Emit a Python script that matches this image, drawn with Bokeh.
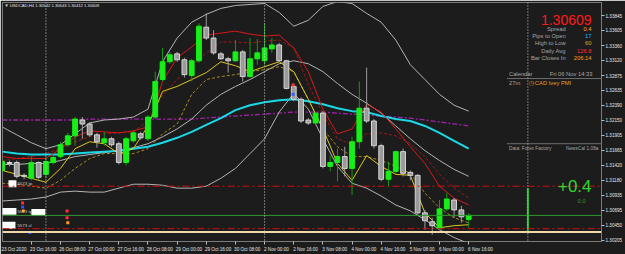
from bokeh.plotting import figure
from bokeh.models import (Range1d, LinearAxis, FixedTicker, PrintfTickFormatter,
                          ColumnDataSource, Label, Span)
from bokeh.embed import file_html
from bokeh.resources import INLINE

# ---------------- data (USDCAD H4, 23 Oct 2020 00:00 .. 6 Nov 2020 16:00) ----------------
IDX = list(range(65))
OPEN = [1.31338,1.31466,1.31466,1.31258,1.31210,1.31466,1.31274,1.31466,1.31562,1.31754,
        1.31898,1.32154,1.32090,1.31914,1.31786,1.31850,1.31770,1.31466,1.31818,1.31930,
        1.31850,1.32202,1.32810,1.33098,1.33226,1.33130,1.32874,1.33114,1.33658,1.33482,
        1.33226,1.33146,1.33114,1.33258,1.32858,1.33146,1.33114,1.33306,1.33370,1.33114,
        1.32698,1.32490,1.32154,1.32106,1.32266,1.31402,1.31466,1.31562,1.31370,1.31802,
        1.32346,1.32138,1.31738,1.31194,1.31322,1.31642,1.31306,1.31258,1.30650,1.30506,
        1.30394,1.30714,1.30858,1.30698,1.30542]
HIGH = [1.31530,1.31498,1.31498,1.31290,1.31578,1.31482,1.31562,1.31594,1.31802,1.31946,
        1.32202,1.32202,1.32122,1.31946,1.31962,1.31882,1.31802,1.31882,1.31978,1.31962,
        1.32234,1.32938,1.33322,1.33258,1.33258,1.33162,1.33146,1.33722,1.33882,1.33610,
        1.33258,1.33178,1.33450,1.33290,1.33482,1.33466,1.33722,1.33482,1.33402,1.33130,
        1.32746,1.32522,1.32186,1.32282,1.32298,1.31578,1.31690,1.31722,1.31882,1.32778,
        1.33002,1.32170,1.31770,1.31482,1.31658,1.31690,1.31338,1.31274,1.30698,1.30570,
        1.30858,1.30970,1.30890,1.30762,1.30643]
LOW = [1.31290,1.31402,1.31210,1.31194,1.31178,1.31194,1.31210,1.31434,1.31530,1.31722,
       1.31738,1.31850,1.31882,1.31706,1.31738,1.31722,1.31434,1.31418,1.31786,1.31834,
       1.31818,1.32170,1.32778,1.33066,1.33098,1.32842,1.32778,1.33082,1.33450,1.33210,
       1.33130,1.32922,1.33098,1.32778,1.32842,1.33050,1.33050,1.33242,1.33098,1.32650,
       1.32458,1.32106,1.32074,1.32074,1.31370,1.31322,1.31162,1.31242,1.30938,1.31690,
       1.32106,1.31690,1.31162,1.31082,1.31290,1.31242,1.31178,1.30618,1.30378,1.30298,
       1.30362,1.30682,1.30570,1.30490,1.30412]
CLOSE = [1.31482,1.31450,1.31242,1.31242,1.31466,1.31226,1.31482,1.31546,1.31754,1.31898,
         1.32170,1.32090,1.31914,1.31802,1.31850,1.31754,1.31466,1.31850,1.31946,1.31866,
         1.32202,1.32778,1.33098,1.33210,1.33130,1.32890,1.33114,1.33674,1.33482,1.33242,
         1.33146,1.33114,1.33258,1.32858,1.33146,1.33242,1.33322,1.33370,1.33114,1.32666,
         1.32490,1.32138,1.32106,1.32266,1.31402,1.31466,1.31562,1.31370,1.31802,1.32346,
         1.32138,1.31738,1.31194,1.31322,1.31642,1.31290,1.31258,1.30650,1.30522,1.30442,
         1.30714,1.30874,1.30698,1.30586,1.30609]

# indicator lines, sampled every second bar
LINE_IDX = list(range(0, 65, 2))
MA_CYAN = [1.31642,1.31610,1.31594,1.31594,1.31594,1.31610,1.31626,1.31642,1.31658,1.31690,
           1.31722,1.31786,1.31866,1.31962,1.32074,1.32186,1.32314,1.32394,1.32442,1.32474,
           1.32490,1.32458,1.32410,1.32346,1.32298,1.32282,1.32218,1.32170,1.32138,1.32058,
           1.31946,1.31818,1.31690]
MA_MAGENTA = [1.32154,1.32154,1.32154,1.32154,1.32154,1.32154,1.32170,1.32170,1.32170,1.32170,
              1.32170,1.32170,1.32170,1.32170,1.32186,1.32202,1.32218,1.32234,1.32250,1.32266,
              1.32282,1.32282,1.32282,1.32266,1.32250,1.32234,1.32218,1.32202,1.32186,1.32154,
              1.32122,1.32090,1.32058]
BB_UPPER = [1.32042,1.31914,1.31786,1.31690,1.31754,1.31930,1.32106,1.32154,1.32170,1.32202,
            1.32330,1.33098,1.33482,1.33738,1.33866,1.33962,1.34010,1.34026,1.34042,1.33898,
            1.33674,1.33770,1.33994,1.34074,1.34042,1.33882,1.33738,1.33450,1.33050,1.32810,
            1.32570,1.32394,1.32298]
BB_MID = [1.31434,1.31434,1.31450,1.31450,1.31498,1.31562,1.31594,1.31626,1.31658,1.31706,
          1.31770,1.31882,1.32010,1.32170,1.32394,1.32570,1.32698,1.32810,1.32938,1.33066,
          1.33114,1.33066,1.32938,1.32746,1.32570,1.32426,1.32266,1.32058,1.31850,1.31658,
          1.31498,1.31354,1.31242]
BB_LOWER = [1.30842,1.30858,1.30874,1.30906,1.30986,1.31002,1.30986,1.30986,1.31050,1.31114,
            1.31114,1.31098,1.31050,1.31050,1.31082,1.31210,1.31370,1.31610,1.31850,1.32282,
            1.32586,1.32330,1.31850,1.31402,1.31130,1.31050,1.30922,1.30778,1.30682,1.30538,
            1.30378,1.30250,1.30154]
MA_RED = [1.31562,1.31530,1.31530,1.31530,1.31690,1.31882,1.31978,1.31962,1.31946,1.31978,
          1.32042,1.32778,1.33162,1.33338,1.33530,1.33562,1.33594,1.33546,1.33514,1.33530,
          1.33322,1.32938,1.32330,1.31930,1.32010,1.32410,1.32282,1.32010,1.31722,1.31450,
          1.31082,1.30890,1.30778]
MA_RED_DASH = [1.31498,1.31530,1.31562,1.31610,1.31690,1.31802,1.31882,1.31930,1.31946,1.31962,
               1.32138,1.32554,1.32810,1.33018,1.33242,1.33418,1.33418,1.33402,1.33434,1.33450,
               1.33322,1.32730,1.32250,1.31850,1.31754,1.31930,1.31946,1.31898,1.31770,1.31562,
               1.31274,1.31050,1.30890]
MA_YELLOW = [1.31338,1.31274,1.31210,1.31146,1.31370,1.31690,1.31802,1.31770,1.31610,1.31690,
             1.32058,1.32618,1.32698,1.32810,1.32922,1.33098,1.33034,1.32938,1.33018,1.33098,
             1.32938,1.32490,1.32010,1.31450,1.31178,1.31578,1.31402,1.31274,1.31258,1.30650,
             1.30410,1.30442,1.30458]
MA_YELLOW_DASH = [1.31130,1.31114,1.31082,1.31050,1.31178,1.31370,1.31530,1.31610,1.31610,1.31610,
                  1.31690,1.31930,1.32090,1.32570,1.32810,1.32858,1.32890,1.32938,1.32970,1.33018,
                  1.32938,1.32490,1.32010,1.31722,1.31562,1.31562,1.31498,1.31402,1.31290,1.30970,
                  1.30730,1.30570,1.30490]

# horizontal levels
BID = 1.30609
LEVEL_RED_UP = 1.31082
LEVEL_RED_DN = 1.30394
LEVEL_WHEAT = 1.30340
SEPARATORS = [6, 36]

PRICE_TICKS = [1.33845, 1.33605, 1.33360, 1.33120, 1.32875, 1.32635, 1.32390, 1.32150,
               1.31905, 1.31665, 1.31420, 1.31180, 1.30935, 1.30695, 1.30450, 1.30205]
TIME_IDX = list(range(0, 65, 4))
TIME_LABELS = ["23 Oct 2020", "23 Oct 16:00", "26 Oct 08:00", "27 Oct 00:00", "27 Oct 16:00",
               "28 Oct 08:00", "29 Oct 00:00", "29 Oct 16:00", "30 Oct 08:00", "2 Nov 00:00",
               "2 Nov 16:00", "3 Nov 08:00", "4 Nov 00:00", "4 Nov 16:00", "5 Nov 08:00",
               "6 Nov 00:00", "6 Nov 16:00"]

TRADE_X = [2.8, 2.8, 2.9, 8.9, 8.9, 9.0, 3.8, 39.9, 39.9]
TRADE_P = [1.30810, 1.30746, 1.30680, 1.30682, 1.30570, 1.30490, 1.30330, 1.32720, 1.32570]
TRADE_C = ["#ff3030", "#3050ff", "#ffa020", "#ff3030", "#ff3030", "#ffa020", "#3050ff",
           "#ff3030", "#3060ff"]

# ---------------- geometry of the terminal window (pixels -> data) ----------------
BAR_PX, BAR0_PX = 7.325, 1.7
P0, P_PER_PX = 1.34090, 0.00016


def xi(px):
    return (px - BAR0_PX) / BAR_PX


def yp(py):
    return P0 - P_PER_PX * py


BG = "#1c1c1c"
FONT = "Liberation Sans"

p = figure(width=625, height=254, output_backend="svg", toolbar_location=None,
           x_range=Range1d(xi(2), xi(604)), y_range=Range1d(yp(244), yp(2)),
           x_axis_type=None, y_axis_type=None,
           min_border_left=2, min_border_top=2, min_border_right=21, min_border_bottom=10,
           background_fill_color=BG, border_fill_color=BG, outline_line_color="#7a7a7a")

yax = LinearAxis(ticker=FixedTicker(ticks=PRICE_TICKS), formatter=PrintfTickFormatter(format="%.5f"),
                 axis_line_color=None, major_tick_line_color="#bdbdbd", major_tick_out=3,
                 major_tick_in=0, minor_tick_line_color=None, major_label_text_color="#e6e6e6",
                 major_label_text_font_size="4.6px", major_label_standoff=1,
                 major_label_text_font=FONT)
p.add_layout(yax, "right")

SHIFT = 1.62
xax = LinearAxis(ticker=FixedTicker(ticks=[i + SHIFT for i in TIME_IDX], minor_ticks=TIME_IDX),
                 major_label_overrides={i + SHIFT: t for i, t in zip(TIME_IDX, TIME_LABELS)},
                 axis_line_color=None, major_tick_line_color=None, major_tick_out=0, major_tick_in=0,
                 minor_tick_line_color="#bdbdbd", minor_tick_out=3, minor_tick_in=0,
                 major_label_text_color="#e6e6e6", major_label_text_font_size="4.6px",
                 major_label_standoff=2, major_label_text_font=FONT)
p.add_layout(xax, "below")

# horizontal levels and separators
p.add_layout(Span(location=LEVEL_RED_UP, dimension="width", line_color="#d01010",
                  line_dash="7 3 2 3", line_width=1))
p.add_layout(Span(location=LEVEL_RED_DN, dimension="width", line_color="#d01010",
                  line_dash="7 3 2 3", line_width=1))
p.add_layout(Span(location=BID, dimension="width", line_color="#2f9a2f", line_width=1))
p.add_layout(Span(location=LEVEL_WHEAT, dimension="width", line_color="#f0d9a8", line_width=2))
for s in SEPARATORS:
    p.add_layout(Span(location=s, dimension="height", line_color="#cfcfcf",
                      line_dash="1 2", line_width=1))
p.add_layout(Span(location=xi(530), dimension="height", line_color="#cfcfcf",
                  line_dash="1 2", line_width=1))

# indicator lines
p.line(LINE_IDX, MA_MAGENTA, line_color="#a020a8", line_width=1.3, line_dash="5 2 2 2")
p.line(LINE_IDX, BB_UPPER, line_color="#b4b4b4", line_width=1)
p.line(LINE_IDX, BB_MID, line_color="#b4b4b4", line_width=1)
p.line(LINE_IDX, BB_LOWER, line_color="#b4b4b4", line_width=1)
p.line(LINE_IDX, MA_YELLOW_DASH, line_color="#a88a20", line_width=1, line_dash="3 2")
p.line(LINE_IDX, MA_RED_DASH, line_color="#a01818", line_width=1, line_dash="3 2")
p.line(LINE_IDX, MA_CYAN, line_color="#1ad8e8", line_width=2)
p.line(LINE_IDX, MA_RED, line_color="#d81818", line_width=1)
p.line(LINE_IDX, MA_YELLOW, line_color="#dcc81a", line_width=1)

# candles
bull = [i for i in IDX if CLOSE[i] >= OPEN[i]]
bear = [i for i in IDX if CLOSE[i] < OPEN[i]]


def src(ix):
    return ColumnDataSource(dict(x=[IDX[i] for i in ix], o=[OPEN[i] for i in ix],
                                 h=[HIGH[i] for i in ix], l=[LOW[i] for i in ix],
                                 c=[CLOSE[i] for i in ix]))


sb, sr = src(bull), src(bear)
p.segment(x0="x", y0="h", x1="x", y1="l", source=sb, line_color="#129a12", line_width=1)
p.segment(x0="x", y0="h", x1="x", y1="l", source=sr, line_color="#9c9c9c", line_width=1)
p.vbar(x="x", width=0.66, top="c", bottom="o", source=sb, fill_color="#16f016",
       line_color="#16f016", line_width=1)
p.vbar(x="x", width=0.66, top="o", bottom="c", source=sr, fill_color="#9a9a9a",
       line_color="#d6d6d6", line_width=1)

# trade arrows
p.scatter(TRADE_X, TRADE_P, marker="square", size=3, fill_color=TRADE_C, line_color=None)

# green pips bar at news line
p.segment(x0=[xi(530)], y0=[yp(233)], x1=[xi(530)], y1=[yp(190)], line_color="#22c422", line_width=2)

# white trade-label boxes (bottom left)
p.quad(left=[xi(8), xi(0), xi(31), xi(0)], right=[xi(16), xi(16), xi(45), xi(15)],
       top=[yp(182), yp(210), yp(211), yp(224)], bottom=[yp(189), yp(217), yp(218), yp(231)],
       fill_color="white", line_color=None)


def lab(x, y, text, size, color, align="left"):
    p.add_layout(Label(x=xi(x), y=yp(y), text=text, text_font_size=size, text_color=color,
                       text_align=align, text_baseline="middle", text_font=FONT))


lab(17, 185, "5573 tp", "4.4px", "#c8c8c8")
lab(17, 213.5, "5573 tp", "4.4px", "#c8c8c8")
lab(17, 227.5, "5573 sl", "4.4px", "#c8c8c8")

# header
lab(4, 5.5, "\u25BC USDCAD,H4  1.30542 1.30643 1.30412 1.30609", "4.2px", "#e6e6e6")

# info panel
lab(594, 19.5, "1.30609", "14px", "#ff1a1a", "right")
rows = [("Spread", "0.4", "#ffa31a"), ("Pips to Open", "17", "#1ab8ff"),
        ("High to Low", "60", "#e8a317"), ("Daily Avg", "126.8", "#ff2a2a"),
        ("Bar Closes In", "206:14", "#ff9a1a")]
for k, (name, val, col) in enumerate(rows):
    yy = 28.5 + 7.45 * k
    lab(568, yy, name, "5.8px", "#a6a6a6", "right")
    lab(594, yy, val, "5.8px", col, "right")

# news calendar panel
p.segment(x0=[xi(509), xi(509)], y0=[yp(79), yp(145)], x1=[xi(604), xi(604)], y1=[yp(79), yp(145)],
          line_color="#6e6e6e", line_width=1)
lab(511, 74.5, "Calendar", "5.8px", "#a6a6a6")
lab(595, 74.5, "Fri 06 Nov 14:33", "5.8px", "#a6a6a6", "right")
lab(511, 84, "27m", "5.8px", "#a6a6a6")
lab(531, 84, "\u25F7", "5.8px", "#e0a020")
lab(537, 84, "CAD Ivey PMI", "5.8px", "#e0a020")
lab(511, 150, "Data: Forex Factory", "4.8px", "#a6a6a6")
lab(601, 150, "NewsCal 1.08a", "4.8px", "#a6a6a6", "right")

lab(594, 188, "+0.4", "17px", "#33d633", "right")
lab(584, 202.5, "0.0", "5.8px", "#2f9a2f", "center")

# price boxes on the axis
p.add_layout(Label(x=xi(606), y=BID, text="1.30609", text_font_size="4.6px", text_color="#000000",
                   text_baseline="middle", text_font=FONT, background_fill_color="#ffffff",
                   padding=1))
p.add_layout(Label(x=xi(606), y=LEVEL_WHEAT, text="1.30340", text_font_size="4.6px",
                   text_color="#000000", text_baseline="middle", text_font=FONT,
                   background_fill_color="#f0d9a8", padding=1))

open("out.html", "w").write(file_html(p, INLINE))
